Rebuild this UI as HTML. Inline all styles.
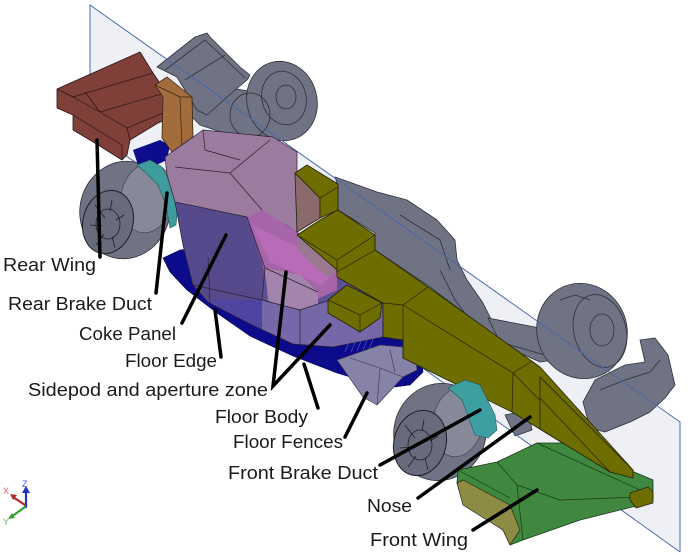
<!DOCTYPE html>
<html><head><meta charset="utf-8"><style>
html,body{margin:0;padding:0;background:#fff;}
svg{display:block;}
.lbl{font-family:"Liberation Sans",Arial,sans-serif;font-size:18px;fill:#1a1a1a;}
</style></head><body>
<svg width="696" height="555" viewBox="0 0 696 555" xmlns="http://www.w3.org/2000/svg">
<g stroke-linejoin="round">
<!-- centre plane -->
<polygon points="90,5 680,422 680,552 90,130" fill="#eef0f6"/>

<!-- far gray parts -->
<g fill="#6f7383" stroke="#2e313b" stroke-width="0.8">
 <polygon points="190,100 230,88 255,92 270,110 272,135 245,140 215,130 200,125 190,115"/>
 <polygon points="157,67 195,37 207,33 210,37 240,67 250,75 247,80 227,97 207,115 197,110 177,77"/>
 <ellipse cx="282" cy="101" rx="35" ry="40" transform="rotate(-15 282 101)"/>
 <polygon points="335,177 352,183 377,192 407,200 437,220 455,240 457,260 467,280 483,303 493,323 520,340 545,338 560,345 555,360 540,362 513,350 430,287 375,250 375,233 338,210 338,187"/>
 <polygon points="488,318 540,328 565,340 570,352 555,358 500,342"/>
 <ellipse cx="582" cy="331" rx="45" ry="48" transform="rotate(-20 582 331)"/>
 <polygon points="583,402 595,380 625,365 645,362 640,340 655,338 668,355 675,385 665,398 650,412 630,422 605,432 590,428"/>
 <polygon points="505,415 528,410 532,430 515,436"/>
</g>
<g fill="none" stroke="#2e313b" stroke-width="0.8">
 <polyline points="165,70 205,40 245,78"/>
 <line x1="185" y1="80" x2="225" y2="55"/>
 <ellipse cx="250" cy="115" rx="20" ry="22"/>
 <ellipse cx="284" cy="98" rx="22" ry="27" transform="rotate(-15 284 98)"/>
 <ellipse cx="286" cy="97" rx="10" ry="12"/>
 <ellipse cx="600" cy="331" rx="26" ry="37" transform="rotate(-15 600 331)"/>
 <ellipse cx="602" cy="330" rx="12" ry="16"/>
 <polyline points="560,300 575,295 590,300"/>
 <polyline points="600,390 625,380 650,372 660,360"/>
 <polyline points="400,215 440,240 450,270"/>
 <polyline points="440,270 455,300 470,320"/>
</g>

<!-- plane outline -->
<g stroke="#4a6aa8" stroke-width="1" fill="none">
 <polyline points="90,85 90,5 680,422 680,552"/>
 <line x1="90" y1="130" x2="680" y2="552"/>
</g>

<!-- near rear wheel -->
<ellipse cx="125" cy="210" rx="45" ry="49" transform="rotate(15 125 210)" fill="#6f7383" stroke="#2e313b" stroke-width="0.8"/>
<ellipse cx="147" cy="198" rx="26" ry="35" transform="rotate(10 147 198)" fill="#858998" stroke="#3a3d47" stroke-width="0.6"/>
<ellipse cx="108" cy="222" rx="25" ry="32" transform="rotate(15 108 222)" fill="#676b7b" stroke="#1e1e24" stroke-width="1"/>
<g stroke="#1e1e24" stroke-width="0.8" fill="none">
 <ellipse cx="108" cy="224" rx="12" ry="15"/>
 <line x1="95" y1="205" x2="105" y2="218"/><line x1="90" y1="225" x2="102" y2="226"/>
 <line x1="96" y1="245" x2="104" y2="234"/><line x1="115" y1="248" x2="112" y2="236"/>
 <line x1="124" y1="215" x2="116" y2="220"/><line x1="112" y1="200" x2="110" y2="211"/>
</g>
<!-- blue diffuser -->
<polygon points="133,150 160,140 170,145 167,160 150,168 138,165" fill="#0c0c8c"/>
<!-- rear brake duct -->
<polygon points="137,165 150,160 162,167 172,185 178,205 176,225 170,228 166,205 158,185 145,172" fill="#3e9c9c" stroke="#24595a" stroke-width="0.6"/>

<!-- rear wing -->
<polygon points="57,89 140,52 153,73 170,98 170,118 158,123 130,140 127,155 122,160 95,143 73,130 73,115 57,108" fill="#7f403a" stroke="#2a1412" stroke-width="0.8"/>
<g stroke="#2a1412" stroke-width="0.7" fill="none">
 <polyline points="57,89 73,97 100,112 127,128 130,140"/>
 <line x1="73" y1="97" x2="153" y2="73"/>
 <line x1="100" y1="112" x2="168" y2="92"/>
 <line x1="127" y1="128" x2="170" y2="110"/>
 <line x1="73" y1="115" x2="122" y2="145"/>
 <line x1="122" y1="145" x2="122" y2="160"/>
 <line x1="85" y1="92" x2="100" y2="112"/>
</g>
<polygon points="155,85 167,77 192,97 193,137 172,152 162,138 163,97" fill="#a36c3c" stroke="#3a2510" stroke-width="0.8"/>
<g stroke="#3a2510" stroke-width="0.7" fill="none">
 <polyline points="155,85 180,97 192,97"/>
 <line x1="180" y1="97" x2="182" y2="148"/>
</g>

<!-- blue floor -->
<polygon points="163,258 180,250 197,248 200,275 215,297 250,318 293,338 330,343 383,335 403,340 420,345 423,372 410,385 395,387 360,380 337,373 293,356 250,336 217,313 187,290 170,272" fill="#0b0b8b" stroke="#06064a" stroke-width="0.6"/>

<!-- body -->
<polygon points="165,157 203,130 273,137 297,152 297,232 337,270 337,277 383,303 383,337 333,347 293,344 250,324 208,302 193,285 183,245 175,202 167,175" fill="#5e4f96"/>
<polygon points="165,157 203,130 273,137 297,152 297,232 287,225 262,212 247,217 175,202 167,175" fill="#9b7c9f"/>
<polygon points="175,202 247,217 265,268 262,300 235,312 208,300 193,285 183,245" fill="#574a8c"/>
<polygon points="247,217 262,210 297,232 337,270 337,290 315,300 300,300 267,285 262,262" fill="#a565a8"/>
<polygon points="252,225 300,248 335,272 322,285 270,262" fill="#b86cb8"/>
<polygon points="265,268 300,275 318,292 318,312 290,318 268,300" fill="#a384ac"/>
<polygon points="262,300 300,310 330,300 383,303 383,337 333,347 293,344 262,330" fill="#7668a8"/>
<polygon points="208,300 262,300 262,330 250,324" fill="#4e45a0"/>
<polygon points="297,235 337,260 335,273 327,277 297,250" fill="#9a7890"/>
<g stroke="#2a2030" stroke-width="0.7" fill="none">
 <polygon points="165,157 203,130 273,137 297,152 297,232 337,270 337,277 383,303 383,337 333,347 293,344 250,324 208,302 193,285 183,245 175,202 167,175"/>
 <line x1="175" y1="202" x2="247" y2="217"/>
 <polyline points="175,167 230,173 270,140"/>
 <line x1="230" y1="173" x2="262" y2="210"/>
 <line x1="208" y1="257" x2="210" y2="303"/>
 <polyline points="247,217 265,268 262,300"/>
 <line x1="265" y1="268" x2="318" y2="292"/>
 <line x1="193" y1="285" x2="262" y2="300"/>
 <polyline points="262,300 300,310 330,300"/>
 <line x1="300" y1="310" x2="300" y2="345"/>
 <polyline points="203,130 205,150 240,160"/>
</g>

<!-- floor fences -->
<polygon points="337,360 380,345 415,348 417,370 403,377 377,405 363,397" fill="#8682a8" stroke="#3a3850" stroke-width="0.7"/>
<g stroke="#3a3850" stroke-width="0.6" fill="none">
 <polyline points="350,358 380,368 403,377"/>
 <line x1="380" y1="368" x2="377" y2="405"/>
 <line x1="390" y1="350" x2="395" y2="372"/>
</g>
<g stroke="#5a5ad0" stroke-width="0.6">
 <line x1="350" y1="340" x2="345" y2="352"/><line x1="356" y1="340" x2="351" y2="352"/>
 <line x1="362" y1="339" x2="357" y2="351"/><line x1="368" y1="338" x2="363" y2="350"/>
 <line x1="374" y1="337" x2="369" y2="349"/>
</g>

<!-- yellow chassis / nose -->
<g fill="#6e6e00" stroke="#22220a" stroke-width="0.8">
 <polygon points="295,173 320,198 320,218 297,232" fill="#8a6a6a"/>
 <polygon points="295,173 307,165 338,184 338,210 320,218 320,198"/>
 <polygon points="297,235 320,220 338,210 375,235 375,250 428,287 540,367 633,470 632,478 610,472 512,412 403,358 403,340 383,337 383,303 337,277 337,270"/>
 <polygon points="328,300 347,285 382,303 380,318 360,332 328,313"/>
</g>
<g stroke="#22220a" stroke-width="0.7" fill="none">
 <line x1="320" y1="198" x2="338" y2="187"/>
 <polyline points="297,235 337,260 375,235"/>
 <line x1="337" y1="260" x2="337" y2="273"/>
 <polyline points="337,272 375,250"/>
 <polyline points="383,303 403,305 428,287"/>
 <polyline points="403,305 513,373 610,472"/>
 <line x1="403" y1="305" x2="403" y2="358"/>
 <line x1="513" y1="373" x2="512" y2="412"/>
 <line x1="513" y1="373" x2="532" y2="361"/>
 <polyline points="328,300 360,315 382,303"/>
 <line x1="360" y1="315" x2="360" y2="332"/>
</g>

<!-- near front wheel -->
<ellipse cx="440" cy="432" rx="46" ry="49" transform="rotate(20 440 432)" fill="#6f7383" stroke="#2e313b" stroke-width="0.8"/>
<ellipse cx="458" cy="422" rx="25" ry="35" transform="rotate(10 458 422)" fill="#858998" stroke="#3a3d47" stroke-width="0.6"/>
<ellipse cx="420" cy="443" rx="26" ry="33" transform="rotate(15 420 443)" fill="#676b7b" stroke="#1e1e24" stroke-width="1"/>
<g stroke="#1e1e24" stroke-width="0.8" fill="none">
 <ellipse cx="420" cy="445" rx="12" ry="15"/>
 <line x1="405" y1="425" x2="415" y2="438"/><line x1="400" y1="448" x2="412" y2="447"/>
 <line x1="408" y1="467" x2="416" y2="456"/><line x1="428" y1="470" x2="425" y2="458"/>
 <line x1="438" y1="436" x2="430" y2="441"/><line x1="424" y1="420" x2="422" y2="431"/>
</g>
<polygon points="448,388 465,380 480,385 495,415 497,430 488,438 475,435 462,400" fill="#3e9fa0" stroke="#24595a" stroke-width="0.6"/>

<!-- front wing -->
<polygon points="458,470 497,462 537,443 565,443 653,480 653,500 640,505 580,520 523,540 510,545 503,530 463,503 457,483" fill="#40883f" stroke="#173a17" stroke-width="0.8"/>
<polygon points="457,483 463,480 510,505 520,530 510,545 503,530 463,505" fill="#8e8c44" stroke="#2a2a10" stroke-width="0.7"/>
<g stroke="#173a17" stroke-width="0.7" fill="none">
 <polyline points="497,462 517,485 523,540"/>
 <line x1="458" y1="470" x2="510" y2="498"/>
 <polyline points="517,485 560,500 640,497"/>
 <line x1="537" y1="443" x2="640" y2="490"/>
</g>
<polygon points="540,377 633,470 633,478 610,472 540,429" fill="#6e6e00" stroke="#22220a" stroke-width="0.8"/>
<line x1="540" y1="398" x2="610" y2="472" stroke="#22220a" stroke-width="0.7"/>
<polygon points="630,493 648,487 653,492 653,503 636,508 630,500" fill="#6e6e00" stroke="#22220a" stroke-width="0.7"/>
</g>

<!-- leader lines -->
<g stroke="#000" stroke-width="3.5" stroke-linecap="round" fill="none">
 <line x1="97" y1="140" x2="100" y2="257"/>
 <line x1="167" y1="193" x2="156" y2="293"/>
 <line x1="226" y1="235" x2="182" y2="323"/>
 <line x1="215" y1="310" x2="221" y2="357"/>
 <polyline points="286,272 273,386 330,325"/>
 <line x1="304" y1="364" x2="318" y2="408"/>
 <line x1="367" y1="393" x2="345" y2="437"/>
 <line x1="480" y1="410" x2="380" y2="465"/>
 <line x1="530" y1="417" x2="418" y2="498"/>
 <line x1="537" y1="490" x2="473" y2="530"/>
</g>

<!-- labels -->
<text class="lbl" x="3" y="271" textLength="93" lengthAdjust="spacingAndGlyphs">Rear Wing</text>
<text class="lbl" x="8" y="310" textLength="144" lengthAdjust="spacingAndGlyphs">Rear Brake Duct</text>
<text class="lbl" x="79" y="340" textLength="97" lengthAdjust="spacingAndGlyphs">Coke Panel</text>
<text class="lbl" x="125" y="367" textLength="92" lengthAdjust="spacingAndGlyphs">Floor Edge</text>
<text class="lbl" x="28" y="396" textLength="240" lengthAdjust="spacingAndGlyphs">Sidepod and aperture zone</text>
<text class="lbl" x="215" y="423" textLength="93" lengthAdjust="spacingAndGlyphs">Floor Body</text>
<text class="lbl" x="233" y="448" textLength="110" lengthAdjust="spacingAndGlyphs">Floor Fences</text>
<text class="lbl" x="228" y="479" textLength="150" lengthAdjust="spacingAndGlyphs">Front Brake Duct</text>
<text class="lbl" x="367" y="512" textLength="45" lengthAdjust="spacingAndGlyphs">Nose</text>
<text class="lbl" x="370" y="546" textLength="98" lengthAdjust="spacingAndGlyphs">Front Wing</text>

<!-- axis triad -->
<g stroke-width="2.2" stroke-linecap="round">
 <line x1="26" y1="507" x2="26" y2="492" stroke="#2030c8"/>
 <line x1="25" y1="505" x2="13" y2="497" stroke="#b02828"/>
 <line x1="25" y1="507" x2="11" y2="517" stroke="#30a030"/>
</g>
<polygon points="22,493 26,486 30,493" fill="#2030c8"/>
<polygon points="10,494 17,495 13,500" fill="#b02828"/>
<polygon points="8,519 12,513 15,518" fill="#30a030"/>
<g font-family="Liberation Sans, Arial, sans-serif" font-size="9">
 <text x="22" y="487" fill="#4050e0">Z</text>
 <text x="3" y="494" fill="#e06060">X</text>
 <text x="3" y="525" fill="#60b060">Y</text>
</g>
</svg>
</body></html>
